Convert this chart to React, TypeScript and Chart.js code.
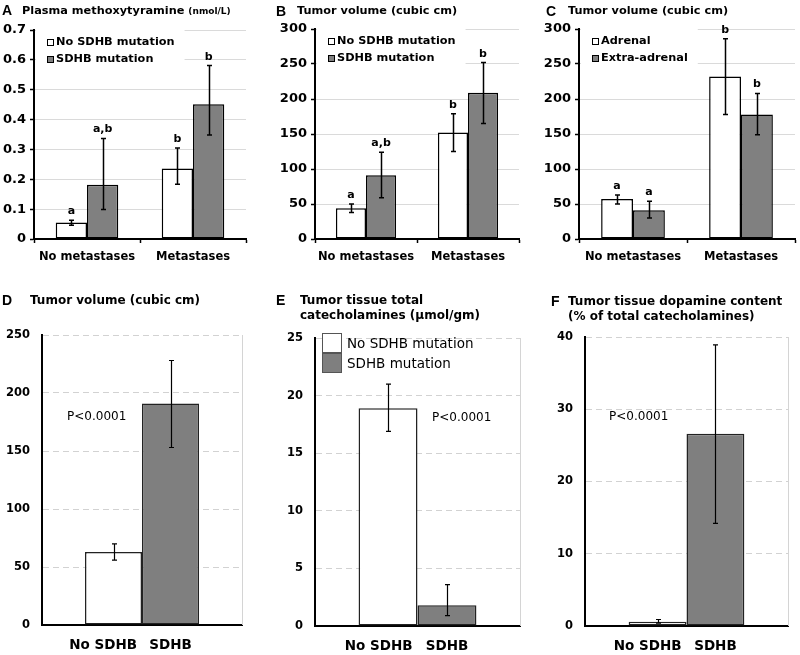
import React, { useEffect, useRef } from "react";
import { Chart, registerables } from "chart.js";
Chart.register(...registerables);

const SANS = "'DejaVu Sans', Verdana, sans-serif";
const LETTER_FONT = "'Liberation Sans', Arial, sans-serif";

// ---------- Panel A: Plasma methoxytyramine (nmol/L)
const aCategories = ["No metastases", "Metastases"];
const aSeriesNames = ["No SDHB mutation", "SDHB mutation"];
const aNoSdhbMean = [0.055, 0.236];
const aNoSdhbLow = [0.046, 0.183];
const aNoSdhbHigh = [0.063, 0.305];
const aNoSdhbSig = ["a", "b"];
const aSdhbMean = [0.182, 0.451];
const aSdhbLow = [0.099, 0.348];
const aSdhbHigh = [0.337, 0.581];
const aSdhbSig = ["a,b", "b"];

// ---------- Panel B: Tumor volume (cubic cm)
const bCategories = ["No metastases", "Metastases"];
const bSeriesNames = ["No SDHB mutation", "SDHB mutation"];
const bNoSdhbMean = [44, 152];
const bNoSdhbLow = [38, 125];
const bNoSdhbHigh = [50, 179];
const bNoSdhbSig = ["a", "b"];
const bSdhbMean = [91, 209];
const bSdhbLow = [59, 165];
const bSdhbHigh = [124, 252];
const bSdhbSig = ["a,b", "b"];

// ---------- Panel C: Tumor volume (cubic cm), adrenal vs extra-adrenal
const cCategories = ["No metastases", "Metastases"];
const cSeriesNames = ["Adrenal", "Extra-adrenal"];
const cAdrenalMean = [57, 232];
const cAdrenalLow = [50, 178];
const cAdrenalHigh = [63, 286];
const cAdrenalSig = ["a", "b"];
const cExtraMean = [41, 178];
const cExtraLow = [30, 149];
const cExtraHigh = [54, 208];
const cExtraSig = ["a", "b"];

// ---------- Panel D: Tumor volume (cubic cm)
const dGroups = ["No SDHB", "SDHB"];
const dMean = [63, 191];
const dLow = [56, 153];
const dHigh = [70, 228];

// ---------- Panel E: Tumor tissue total catecholamines (µmol/gm)
const eSeriesNames = ["No SDHB mutation", "SDHB mutation"];
const eGroups = ["No SDHB", "SDHB"];
const eMean = [18.9, 1.8];
const eLow = [16.9, 0.9];
const eHigh = [21.0, 3.6];

// ---------- Panel F: Tumor tissue dopamine content (% of total catecholamines)
const fGroups = ["No SDHB", "SDHB"];
const fMean = [0.6, 26.6];
const fLow = [0.4, 14.2];
const fHigh = [0.9, 38.9];

const pValueText = "P<0.0001";

// axis ranges
const aYMax = 0.7, aYStep = 0.1;
const bYMax = 300, bYStep = 50;
const cYMax = 300, cYStep = 50;
const dYMax = 250, dYStep = 50;
const eYMax = 25, eYStep = 5;
const fYMax = 40, fYStep = 10;

const WHITE = "#ffffff";
const GRAY = "#808080";

type Series = {
  label: string;
  data: number[];
  low: number[];
  high: number[];
  sig?: string[];
  color: string;
};

type PanelCfg = {
  box: [number, number, number, number];
  area: [number, number, number, number];
  categories: string[];
  showCategoryLabels: boolean;
  series: Series[];
  yMax: number;
  yStep: number;
  decimals: number;
  style: "top" | "bottom";
  legend: "small" | "large" | "none";
  pPos?: [number, number];
  barLabels?: string[];
  catPct: number;
};

function Panel({ cfg }: { cfg: PanelCfg }) {
  const ref = useRef<HTMLCanvasElement>(null);
  useEffect(() => {
    const canvas = ref.current;
    if (!canvas) return;
    const isTop = cfg.style === "top";
    const [cx, cy, cw, ch] = cfg.box;
    const [l, t, r, b] = cfg.area;

    const extras = {
      id: "panelExtras",
      afterDraw(chart: any) {
        const ctx = chart.ctx;
        const area = chart.chartArea;
        const yS = chart.scales.y;
        ctx.save();
        if (!isTop) {
          ctx.strokeStyle = "#d4d4d4";
          ctx.lineWidth = 1;
          ctx.beginPath();
          ctx.moveTo(Math.round(area.right) + 0.5, area.top);
          ctx.lineTo(Math.round(area.right) + 0.5, area.bottom);
          ctx.stroke();
        }
        // error bars + significance letters
        cfg.series.forEach((s, i) => {
          const meta = chart.getDatasetMeta(i);
          meta.data.forEach((el: any, j: number) => {
            const x = Math.round(el.x) + 0.5;
            const yH = yS.getPixelForValue(s.high[j]);
            const yL = yS.getPixelForValue(s.low[j]);
            const cap = isTop ? 2.5 : 2.5;
            ctx.strokeStyle = "#000";
            ctx.lineWidth = isTop ? 1.5 : 1.2;
            ctx.beginPath();
            ctx.moveTo(x, yH);
            ctx.lineTo(x, yL);
            ctx.moveTo(x - cap, yH);
            ctx.lineTo(x + cap, yH);
            ctx.moveTo(x - cap, yL);
            ctx.lineTo(x + cap, yL);
            ctx.stroke();
            if (s.sig) {
              ctx.fillStyle = "#000";
              ctx.font = `bold 11px ${SANS}`;
              ctx.textAlign = "center";
              ctx.textBaseline = "alphabetic";
              ctx.fillText(s.sig[j], el.x, yH - 6);
            }
          });
        });
        // legends
        if (cfg.legend === "small") {
          ctx.font = `bold 11.3px ${SANS}`;
          const widths = cfg.series.map((s) => ctx.measureText(s.label).width);
          const bgW = Math.max(...widths) + 30;
          ctx.fillStyle = "#fff";
          ctx.fillRect(area.left + 2, area.top - 3, bgW, 42);
          cfg.series.forEach((s, i) => {
            const yc = area.top + 12 + i * 17;
            ctx.fillStyle = s.color;
            ctx.fillRect(area.left + 13, yc - 3, 6, 6);
            ctx.strokeStyle = "#000";
            ctx.lineWidth = 1;
            ctx.strokeRect(area.left + 13.5, yc - 2.5, 6, 6);
            ctx.fillStyle = "#000";
            ctx.textAlign = "left";
            ctx.textBaseline = "middle";
            ctx.fillText(s.label, area.left + 22, yc + 0.5);
          });
        } else if (cfg.legend === "large") {
          ctx.font = `13.5px ${SANS}`;
          cfg.series.forEach((s, i) => {
            const y0 = area.top - 5 + i * 20;
            ctx.fillStyle = s.color;
            ctx.fillRect(area.left + 7, y0, 20, 20);
            ctx.strokeStyle = "#555";
            ctx.lineWidth = 1;
            ctx.strokeRect(area.left + 7.5, y0 + 0.5, 19, 19);
            ctx.fillStyle = "#000";
            ctx.textAlign = "left";
            ctx.textBaseline = "middle";
            ctx.fillText(s.label, area.left + 32, y0 + 11);
          });
        }
        if (cfg.pPos) {
          ctx.fillStyle = "#000";
          ctx.font = `12px ${SANS}`;
          ctx.textAlign = "left";
          ctx.textBaseline = "middle";
          ctx.fillText(pValueText, area.left + cfg.pPos[0], area.top + cfg.pPos[1]);
        }
        if (cfg.barLabels) {
          ctx.fillStyle = "#000";
          ctx.font = `bold 13.5px ${SANS}`;
          ctx.textBaseline = "middle";
          cfg.barLabels.forEach((lab, i) => {
            const el = chart.getDatasetMeta(i).data[0];
            if (i === 0) {
              ctx.textAlign = "right";
              ctx.fillText(lab, el.x + el.width / 2 - 5, area.bottom + 20);
            } else {
              ctx.textAlign = "center";
              ctx.fillText(lab, el.x, area.bottom + 20);
            }
          });
        }
        ctx.restore();
      },
    };

    const gridCol = isTop ? "#dadada" : "#d2d2d2";
    const chart = new Chart(canvas, {
      type: "bar",
      data: {
        labels: cfg.categories,
        datasets: cfg.series.map((s) => ({
          label: s.label,
          data: s.data,
          backgroundColor: s.color,
          borderColor: isTop ? "#000" : "#222",
          borderWidth: 1.5,
          borderSkipped: false,
          barPercentage: 1,
          categoryPercentage: cfg.catPct,
        })),
      },
      options: {
        responsive: false,
        animation: false,
        events: [],
        layout: { padding: { left: 0, top: t - cy, right: cx + cw - r, bottom: 0 } },
        plugins: {
          legend: { display: false },
          tooltip: { enabled: false },
          title: { display: false },
        },
        scales: {
          x: {
            type: "category",
            offset: true,
            grid: {
              display: isTop,
              offset: true,
              drawOnChartArea: false,
              drawTicks: true,
              tickLength: 4,
              tickColor: "#000",
              tickWidth: 1.5,
            },
            border: { display: true, color: "#000", width: 2 },
            ticks: {
              display: cfg.showCategoryLabels,
              font: { family: SANS, size: 11.5, weight: "bold" },
              color: "#000",
              padding: 7,
              maxRotation: 0,
              autoSkip: false,
            },
            afterFit: (s: any) => {
              s.height = cy + ch - b;
            },
          },
          y: {
            min: 0,
            max: cfg.yMax,
            ticks: {
              stepSize: cfg.yStep,
              callback: (v: any) => (Number(v) === 0 ? "0" : Number(v).toFixed(cfg.decimals)),
              font: { family: SANS, size: isTop ? 13 : 11.5, weight: "bold" },
              color: "#000",
              padding: isTop ? 4 : 12,
            },
            grid: {
              color: (c: any) => (c.tick && c.tick.value === 0 ? "rgba(0,0,0,0)" : gridCol),
              lineWidth: 1,
              drawTicks: isTop,
              tickLength: 4,
              tickColor: "#000",
              tickWidth: 1.5,
            },
            border: { display: true, color: "#000", width: 2, dash: isTop ? [] : [6, 4] },
            afterFit: (s: any) => {
              s.width = l - cx;
            },
          },
        },
      } as any,
      plugins: [extras],
    });
    return () => chart.destroy();
  }, [cfg]);
  const [cx, cy, cw, ch] = cfg.box;
  return (
    <canvas
      ref={ref}
      width={cw}
      height={ch}
      style={{ position: "absolute", left: cx, top: cy, width: cw, height: ch }}
    />
  );
}

const panels: PanelCfg[] = [
  {
    box: [0, 0, 265, 275],
    area: [34, 30, 246, 239],
    categories: aCategories,
    showCategoryLabels: true,
    series: [
      { label: aSeriesNames[0], data: aNoSdhbMean, low: aNoSdhbLow, high: aNoSdhbHigh, sig: aNoSdhbSig, color: WHITE },
      { label: aSeriesNames[1], data: aSdhbMean, low: aSdhbLow, high: aSdhbHigh, sig: aSdhbSig, color: GRAY },
    ],
    yMax: aYMax,
    yStep: aYStep,
    decimals: 1,
    style: "top",
    legend: "small",
    catPct: 0.59,
  },
  {
    box: [265, 0, 265, 275],
    area: [315, 29, 519, 239],
    categories: bCategories,
    showCategoryLabels: true,
    series: [
      { label: bSeriesNames[0], data: bNoSdhbMean, low: bNoSdhbLow, high: bNoSdhbHigh, sig: bNoSdhbSig, color: WHITE },
      { label: bSeriesNames[1], data: bSdhbMean, low: bSdhbLow, high: bSdhbHigh, sig: bSdhbSig, color: GRAY },
    ],
    yMax: bYMax,
    yStep: bYStep,
    decimals: 0,
    style: "top",
    legend: "small",
    catPct: 0.59,
  },
  {
    box: [530, 0, 270, 275],
    area: [579, 29, 795, 239],
    categories: cCategories,
    showCategoryLabels: true,
    series: [
      { label: cSeriesNames[0], data: cAdrenalMean, low: cAdrenalLow, high: cAdrenalHigh, sig: cAdrenalSig, color: WHITE },
      { label: cSeriesNames[1], data: cExtraMean, low: cExtraLow, high: cExtraHigh, sig: cExtraSig, color: GRAY },
    ],
    yMax: cYMax,
    yStep: cYStep,
    decimals: 0,
    style: "top",
    legend: "small",
    catPct: 0.59,
  },
  {
    box: [0, 285, 265, 370],
    area: [42, 335, 242, 625],
    categories: [""],
    showCategoryLabels: false,
    series: [
      { label: eSeriesNames[0], data: [dMean[0]], low: [dLow[0]], high: [dHigh[0]], color: WHITE },
      { label: eSeriesNames[1], data: [dMean[1]], low: [dLow[1]], high: [dHigh[1]], color: "#7f7f7f" },
    ],
    yMax: dYMax,
    yStep: dYStep,
    decimals: 0,
    style: "bottom",
    legend: "none",
    pPos: [25, 82],
    barLabels: dGroups,
    catPct: 0.57,
  },
  {
    box: [265, 285, 265, 370],
    area: [315, 338, 520, 626],
    categories: [""],
    showCategoryLabels: false,
    series: [
      { label: eSeriesNames[0], data: [eMean[0]], low: [eLow[0]], high: [eHigh[0]], color: WHITE },
      { label: eSeriesNames[1], data: [eMean[1]], low: [eLow[1]], high: [eHigh[1]], color: "#7f7f7f" },
    ],
    yMax: eYMax,
    yStep: eYStep,
    decimals: 0,
    style: "bottom",
    legend: "large",
    pPos: [117, 80],
    barLabels: eGroups,
    catPct: 0.575,
  },
  {
    box: [530, 285, 270, 370],
    area: [585, 337, 788, 626],
    categories: [""],
    showCategoryLabels: false,
    series: [
      { label: eSeriesNames[0], data: [fMean[0]], low: [fLow[0]], high: [fHigh[0]], color: WHITE },
      { label: eSeriesNames[1], data: [fMean[1]], low: [fLow[1]], high: [fHigh[1]], color: "#7f7f7f" },
    ],
    yMax: fYMax,
    yStep: fYStep,
    decimals: 0,
    style: "bottom",
    legend: "none",
    pPos: [24, 80],
    barLabels: fGroups,
    catPct: 0.57,
  },
];

const panelLetters = ["A", "B", "C", "D", "E", "F"];

type TitleSpec = { letter: string; lx: number; ly: number; tx: number; ty: number; size: number; lines: React.ReactNode[] };

const titles: TitleSpec[] = [
  { letter: panelLetters[0], lx: 2, ly: 10, tx: 22, ty: 11, size: 11.3, lines: [<>Plasma methoxytyramine <span style={{ fontSize: 9 }}>(nmol/L)</span></>] },
  { letter: panelLetters[1], lx: 276, ly: 11, tx: 297, ty: 11, size: 11.3, lines: ["Tumor volume (cubic cm)"] },
  { letter: panelLetters[2], lx: 546, ly: 11, tx: 568, ty: 11, size: 11.3, lines: ["Tumor volume (cubic cm)"] },
  { letter: panelLetters[3], lx: 2, ly: 300, tx: 30, ty: 300, size: 12, lines: ["Tumor volume (cubic cm)"] },
  { letter: panelLetters[4], lx: 276, ly: 300, tx: 300, ty: 300, size: 12, lines: ["Tumor tissue total", "catecholamines (µmol/gm)"] },
  { letter: panelLetters[5], lx: 551, ly: 301, tx: 568, ty: 301, size: 12, lines: ["Tumor tissue dopamine content", "(% of total catecholamines)"] },
];

export default function App() {
  return (
    <div style={{ position: "absolute", left: 0, top: 0, width: 800, height: 655, background: "#fff", overflow: "hidden" }}>
      {panels.map((p, i) => (
        <Panel key={i} cfg={p} />
      ))}
      {titles.map((tt, i) => (
        <React.Fragment key={i}>
          <div
            style={{
              position: "absolute",
              left: tt.lx,
              top: tt.ly - 8,
              height: 16,
              lineHeight: "16px",
              fontFamily: LETTER_FONT,
              fontWeight: "bold",
              fontSize: 14,
              color: "#000",
            }}
          >
            {tt.letter}
          </div>
          {tt.lines.map((ln, j) => (
            <div
              key={j}
              style={{
                position: "absolute",
                left: tt.tx,
                top: tt.ty - 8 + j * 15,
                height: 16,
                lineHeight: "16px",
                fontFamily: SANS,
                fontWeight: "bold",
                fontSize: tt.size,
                color: "#000",
                whiteSpace: "nowrap",
              }}
            >
              {ln}
            </div>
          ))}
        </React.Fragment>
      ))}
    </div>
  );
}
